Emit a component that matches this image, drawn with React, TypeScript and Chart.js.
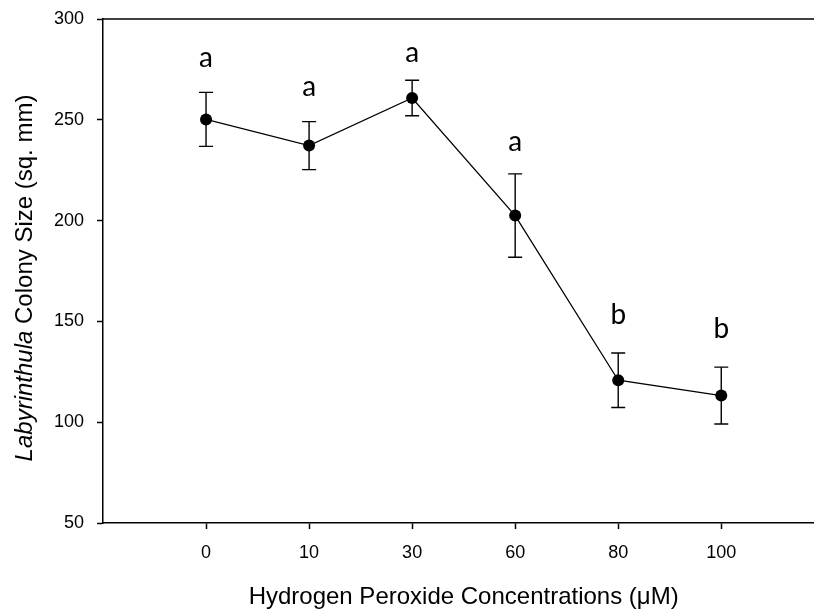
import React, { useEffect, useRef } from "react";
import { Chart, registerables } from "chart.js";

Chart.register(...registerables);

const categories = ["0", "10", "30", "60", "80", "100"];
const meanSize = [250.2, 237.2, 260.8, 202.5, 120.8, 113.2];
const stdErr = [13.4, 11.9, 8.8, 20.7, 13.5, 14.1];
const groupLetters = ["a", "a", "a", "a", "b", "b"];
const letterY = [276.3, 261.6, 278.8, 234.7, 148.7, 141.6];
const yTicks = [50, 100, 150, 200, 250, 300];

const SANS = '"Liberation Sans", Arial, sans-serif';

const extrasPlugin = {
  id: "extras",
  afterDatasetsDraw(chart: any) {
    const { ctx, chartArea, scales } = chart;
    const xs = scales.x;
    const ys = scales.y;
    ctx.save();
    // top border
    ctx.strokeStyle = "#000";
    ctx.lineWidth = 1.5;
    ctx.beginPath();
    ctx.moveTo(chartArea.left, chartArea.top);
    ctx.lineTo(chartArea.right, chartArea.top);
    ctx.stroke();
    // error bars
    ctx.lineWidth = 1.4;
    meanSize.forEach((m, i) => {
      const px = xs.getPixelForValue(i + 1);
      const top = ys.getPixelForValue(m + stdErr[i]);
      const bot = ys.getPixelForValue(m - stdErr[i]);
      ctx.beginPath();
      ctx.moveTo(px, top);
      ctx.lineTo(px, bot);
      ctx.moveTo(px - 7, top);
      ctx.lineTo(px + 7, top);
      ctx.moveTo(px - 7, bot);
      ctx.lineTo(px + 7, bot);
      ctx.stroke();
    });
    // group letters
    ctx.fillStyle = "#000";
    ctx.font = '28px Lato, "Open Sans", sans-serif';
    ctx.textAlign = "center";
    ctx.textBaseline = "alphabetic";
    groupLetters.forEach((l, i) => {
      ctx.fillText(l, xs.getPixelForValue(i + 1), ys.getPixelForValue(letterY[i]));
    });
    // x title
    ctx.font = `24px ${SANS}`;
    ctx.textBaseline = "middle";
    ctx.fillText(
      "Hydrogen Peroxide Concentrations (\u03bcM)",
      xs.getPixelForValue(3.5),
      chartArea.bottom + 74
    );
    // y title
    const italicPart = "Labyrinthula";
    const normalPart = " Colony Size (sq. mm)";
    ctx.translate(25, (chartArea.top + chartArea.bottom) / 2 + 7);
    ctx.rotate(-Math.PI / 2);
    ctx.font = `italic 24px ${SANS}`;
    const w1 = ctx.measureText(italicPart).width;
    ctx.font = `24px ${SANS}`;
    const w2 = ctx.measureText(normalPart).width;
    const start = -(w1 + w2) / 2;
    ctx.textAlign = "left";
    ctx.font = `italic 24px ${SANS}`;
    ctx.fillText(italicPart, start, 0);
    ctx.font = `24px ${SANS}`;
    ctx.fillText(normalPart, start + w1, 0);
    ctx.restore();
  },
};

export default function App() {
  const ref = useRef<HTMLCanvasElement | null>(null);
  useEffect(() => {
    if (!ref.current) return;
    const chart = new Chart(ref.current, {
      type: "line",
      data: {
        datasets: [
          {
            data: meanSize.map((m, i) => ({ x: i + 1, y: m })),
            borderColor: "#000",
            borderWidth: 1.3,
            pointRadius: 6,
            pointBackgroundColor: "#000",
            pointBorderColor: "#000",
            pointBorderWidth: 0,
            fill: false,
            tension: 0,
          },
        ],
      },
      options: {
        responsive: false,
        animation: false,
        layout: { autoPadding: false, padding: { top: 19, right: 0, left: 0, bottom: 0 } },
        plugins: { legend: { display: false }, tooltip: { enabled: false } },
        scales: {
          x: {
            type: "linear",
            min: 0,
            max: 6.9,
            afterBuildTicks: (s: any) => {
              s.ticks = categories.map((_, i) => ({ value: i + 1 }));
            },
            afterFit: (s: any) => {
              s.height = 90;
              s.paddingLeft = 0;
              s.paddingRight = 0;
            },
            ticks: {
              autoSkip: false,
              maxRotation: 0,
              padding: 13,
              color: "#000",
              font: { family: SANS, size: 18 },
              callback: (v: any) => categories[Number(v) - 1] ?? "",
            },
            grid: {
              drawOnChartArea: false,
              tickLength: 6,
              tickColor: "#000",
              tickWidth: 1.5,
            },
            border: { color: "#000", width: 1.5 },
          },
          y: {
            min: 50,
            max: 300,
            afterBuildTicks: (s: any) => {
              s.ticks = yTicks.map((v) => ({ value: v }));
            },
            afterFit: (s: any) => {
              s.width = 103;
              s.paddingTop = 0;
              s.paddingBottom = 0;
            },
            ticks: {
              padding: 13,
              color: "#000",
              font: { family: SANS, size: 18 },
            },
            grid: {
              drawOnChartArea: false,
              tickLength: 6,
              tickColor: "#000",
              tickWidth: 1.5,
            },
            border: { color: "#000", width: 1.5 },
          },
        },
      },
      plugins: [extrasPlugin],
    });
    return () => chart.destroy();
  }, []);
  return (
    <div style={{ position: "absolute", left: 0, top: 0, width: 814, height: 613, background: "#fff" }}>
      <canvas ref={ref} width={814} height={613} />
    </div>
  );
}
